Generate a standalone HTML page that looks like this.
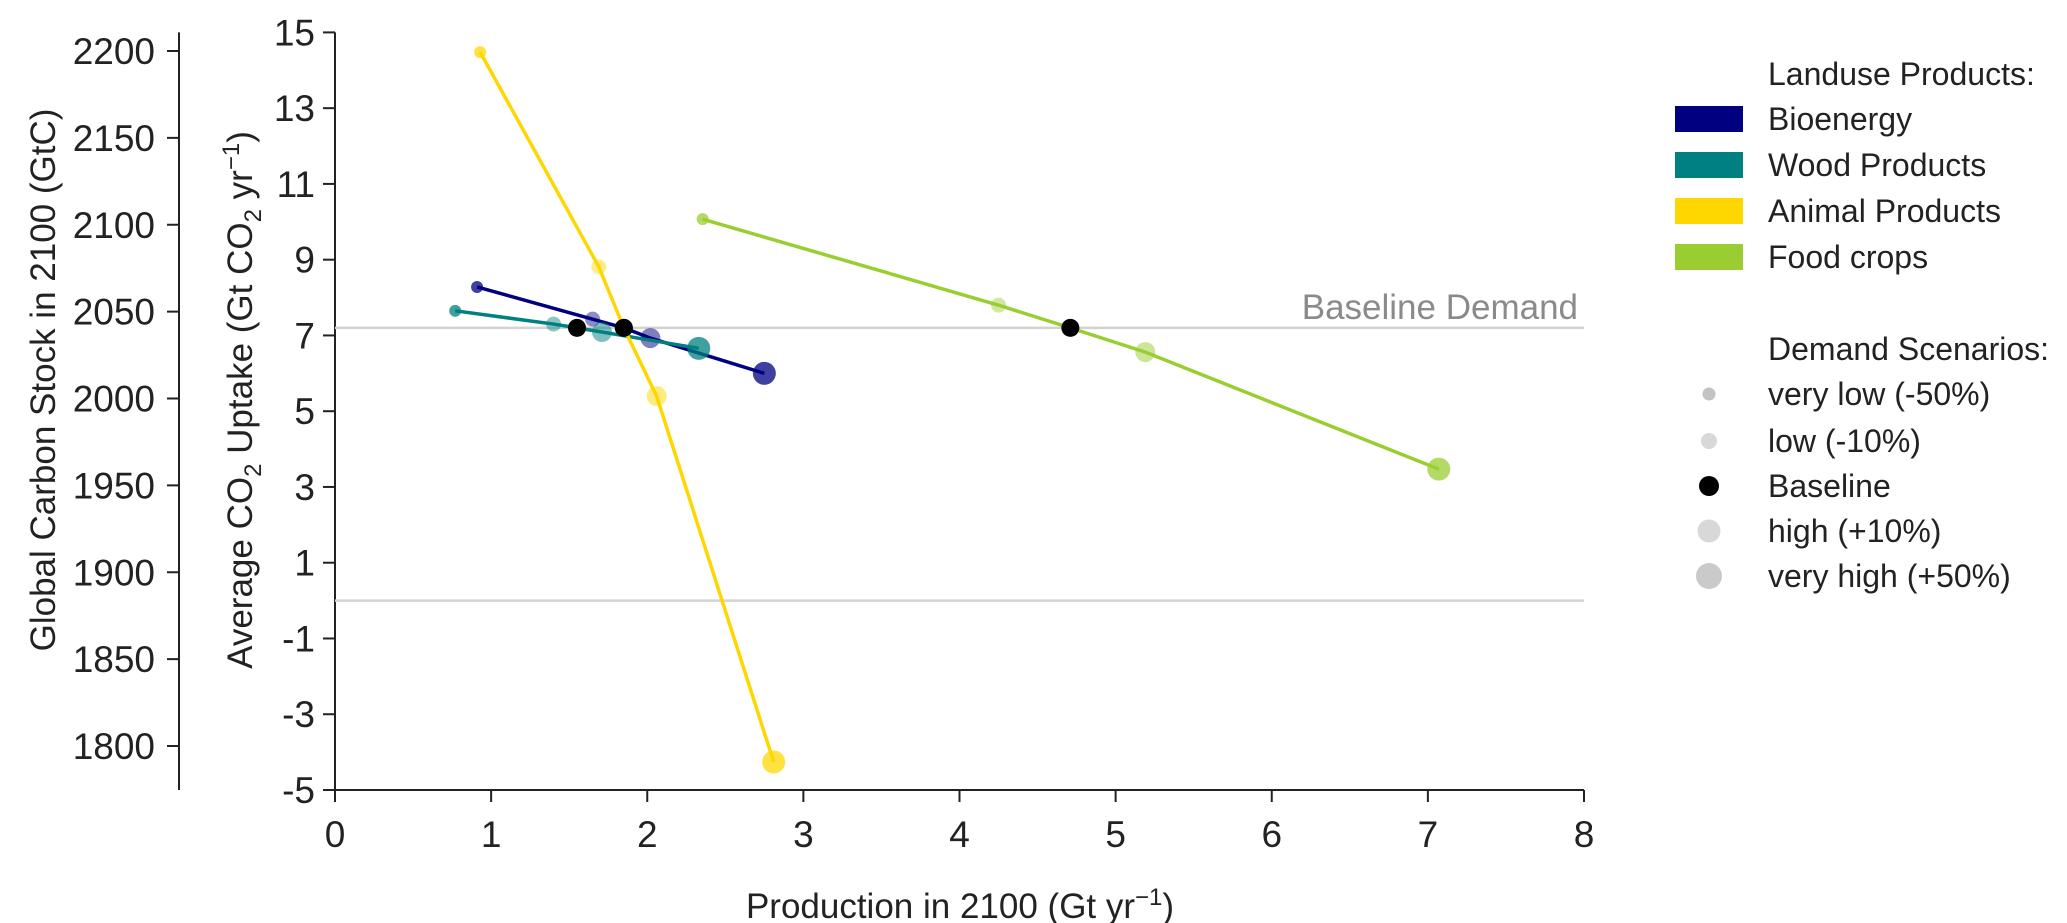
<!DOCTYPE html>
<html><head><meta charset="utf-8"><style>
html,body{margin:0;padding:0;background:#fff;}
svg{display:block;font-family:"Liberation Sans",sans-serif;}
</style></head><body>
<svg id="chart" width="2067" height="923" viewBox="0 0 2067 923" xmlns="http://www.w3.org/2000/svg">
<g id="axes"></g>
<g id="marks"></g>
<g id="legend"></g>
</svg>
<script>
const categories = ["Bioenergy","Wood Products","Animal Products","Food crops"];
const seriesColors = ["#000080","#008080","#FFD700","#9ACD32"];
const scenarios = ["very low  (-50%)","low  (-10%)","Baseline","high (+10%)","very high (+50%)"];
const bioX = [0.91,1.65,1.85,2.02,2.75];
const bioY = [8.28,7.43,7.2,6.93,6.0];
const woodX = [0.77,1.40,1.55,1.71,2.33];
const woodY = [7.65,7.30,7.2,7.09,6.66];
const animalX = [0.93,1.69,1.85,2.06,2.81];
const animalY = [14.48,8.81,7.2,5.40,-4.26];
const foodX = [2.355,4.25,4.71,5.19,7.07];
const foodY = [10.07,7.80,7.2,6.56,3.47];
const xTicks = [0,1,2,3,4,5,6,7,8];
const yTicks = [-5,-3,-1,1,3,5,7,9,11,13,15];
const carbonTicks = [1800,1850,1900,1950,2000,2050,2100,2150,2200];
const baselineValue = 7.2;
const zeroValue = 0;

const NS="http://www.w3.org/2000/svg";
function mk(tag,attrs,parent,text){const e=document.createElementNS(NS,tag);for(const k in attrs)e.setAttribute(k,attrs[k]);if(text!==undefined)e.textContent=text;parent.appendChild(e);return e;}
const X0=335,X1=1584,Y0=790,Y1=32.4;
function sx(v){return X0+(v-0)/(8-0)*(X1-X0);}
function sy(v){return Y0-(v-(-5))/(15-(-5))*(Y0-Y1);}
function sc(v){return 746-(v-1800)*(746-51)/400;}

const axes=document.getElementById('axes');
const marks=document.getElementById('marks');
const legend=document.getElementById('legend');

let l=mk('line',{x1:X0,x2:X1,y1:sy(baselineValue),y2:sy(baselineValue),stroke:'#d3d3d3','stroke-width':2.5},marks);


l=mk('line',{x1:X0,x2:X1,y1:sy(zeroValue),y2:sy(zeroValue),stroke:'#d3d3d3','stroke-width':2.5},marks);


let t=mk('text',{x:1578,y:sy(baselineValue)-9,'text-anchor':'end','font-size':35,fill:'#8a8a8a'},marks,'Baseline Demand');



l=mk('line',{x1:X0,x2:X0,y1:Y1,y2:Y0,stroke:'#222','stroke-width':2},axes);


l=mk('line',{x1:X0,x2:X1,y1:Y0,y2:Y0,stroke:'#222','stroke-width':2},axes);


yTicks.forEach(v=>{
  mk('line',{x1:X0-12,x2:X0,y1:sy(v),y2:sy(v),stroke:'#222','stroke-width':2},axes);
  const e=mk('text',{x:X0-20,y:sy(v)+13,'text-anchor':'end','font-size':37,fill:'#222'},axes,String(v));
  
  
});
xTicks.forEach(v=>{
  mk('line',{x1:sx(v),x2:sx(v),y1:Y0,y2:Y0+12,stroke:'#222','stroke-width':2},axes);
  const e=mk('text',{x:sx(v),y:847,'text-anchor':'middle','font-size':37,fill:'#222'},axes,String(v));
  
  
});
l=mk('line',{x1:179,x2:179,y1:Y1,y2:Y0,stroke:'#222','stroke-width':2},axes);


carbonTicks.forEach(v=>{
  mk('line',{x1:167,x2:179,y1:sc(v),y2:sc(v),stroke:'#222','stroke-width':2},axes);
  const e=mk('text',{x:155,y:sc(v)+13,'text-anchor':'end','font-size':37,fill:'#222'},axes,String(v));
  
  
});
t=mk('text',{x:960,y:918,'text-anchor':'middle','font-size':35,fill:'#222'},axes);


t.innerHTML='Production in 2100 (Gt yr<tspan dy="-13" font-size="24">−1</tspan><tspan dy="13">)</tspan>';
t=mk('text',{transform:'translate(55,380) rotate(-90)','text-anchor':'middle','font-size':35,fill:'#222'},axes,'Global Carbon Stock in 2100 (GtC)');


t=mk('text',{transform:'translate(252,400) rotate(-90)','text-anchor':'middle','font-size':35,fill:'#222'},axes);


t.innerHTML='Average CO<tspan dy="9" font-size="24">2</tspan><tspan dy="-9"> Uptake (Gt CO</tspan><tspan dy="9" font-size="24">2</tspan><tspan dy="-9"> yr</tspan><tspan dy="-13" font-size="24">−1</tspan><tspan dy="13">)</tspan>';

const radii=[6,7.5,9,10,11.5];
const opac=[0.75,0.45,1,0.5,0.75];
const allX=[bioX,woodX,animalX,foodX];
const allY=[bioY,woodY,animalY,foodY];
const names=['bioenergy','wood-products','animal-products','food-crops'];
allX.forEach((xs,si)=>{
  const g=mk('g',{},marks);
  
  
  const pts=xs.map((x,i)=>sx(x)+','+sy(allY[si][i])).join(' ');
  const pl=mk('polyline',{points:pts,fill:'none',stroke:seriesColors[si],'stroke-width':3.5},g);
  
  
  xs.forEach((x,i)=>{
    const c=mk('circle',{cx:sx(x),cy:sy(allY[si][i]),r:radii[i],fill:i===2?'#000':seriesColors[si],'fill-opacity':opac[i]},g);
    
    
  });
});

t=mk('text',{x:1768,y:85,'font-size':32,fill:'#222'},legend,'Landuse Products:');


const rowsY=[119,165,211,257];
categories.forEach((c,i)=>{
  const r=mk('rect',{x:1675,y:rowsY[i]-13,width:68,height:26,fill:seriesColors[i]},legend);
  
  
  const e=mk('text',{x:1768,y:rowsY[i]+11,'font-size':32,fill:'#222'},legend,c);
  
  
});
t=mk('text',{x:1768,y:360,'font-size':32,fill:'#222'},legend,'Demand Scenarios:');


const sY=[394,441,486,531,576];
const sR=[6.5,8,10,11.5,13];
const sF=['#c3c3c3','#d8d8d8','#000','#d8d8d8','#cacaca'];
scenarios.forEach((s,i)=>{
  const c=mk('circle',{cx:1709,cy:sY[i],r:sR[i],fill:sF[i]},legend);
  
  
  const e=mk('text',{x:1768,y:sY[i]+11,'font-size':32,fill:'#222','xml:space':'preserve'},legend,s);
  
  
});
</script>
</body></html>
